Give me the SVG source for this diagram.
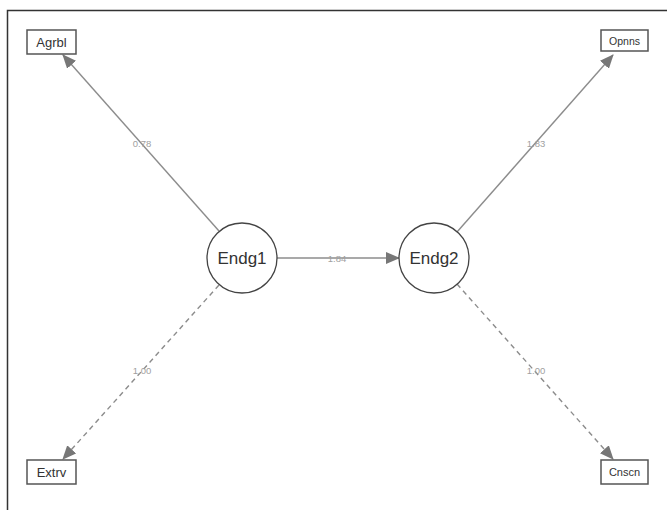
<svg xmlns="http://www.w3.org/2000/svg" width="667" height="510" viewBox="0 0 667 510">
<style>
.frame{fill:none;stroke:#333;stroke-width:1.5}
.box{fill:#fff;stroke:#555;stroke-width:1.5}
.circ{fill:#fff;stroke:#444;stroke-width:1.3}
.t{font-family:"Liberation Sans",Arial,sans-serif;fill:#333;text-anchor:middle;dominant-baseline:central}
.edge{stroke:#8c8c8c;stroke-width:1.4;fill:none}
.dash{stroke-dasharray:5,4}
.lbl{font-family:"Liberation Sans",Arial,sans-serif;font-size:9.5px;fill:#a0a0a0;text-anchor:middle;dominant-baseline:central}
</style>
<defs>
<marker id="ah" markerUnits="userSpaceOnUse" markerWidth="14" markerHeight="12" refX="13" refY="6" orient="auto" viewBox="0 0 14 12">
<path d="M0,0 L14,6 L0,12 Z" fill="#777"/>
</marker>
</defs>
<rect width="667" height="510" fill="#fff"/>
<path class="frame" d="M7.5,520 L7.5,10.5 L680,10.5"/>
<g id="connectors">
<line class="edge" x1="219" y1="231" x2="63" y2="55" marker-end="url(#ah)"/>
<line class="edge" x1="457" y1="232" x2="613" y2="55" marker-end="url(#ah)"/>
<line class="edge dash" x1="219" y1="285" x2="63" y2="459" marker-end="url(#ah)"/>
<line class="edge dash" x1="457" y1="284" x2="613" y2="459" marker-end="url(#ah)"/>
<line class="edge" x1="277" y1="258" x2="399" y2="258" marker-end="url(#ah)"/>
<text class="lbl" x="142" y="143">0.78</text>
<text class="lbl" x="536" y="143">1.83</text>
<text class="lbl" x="142" y="370">1.00</text>
<text class="lbl" x="536" y="370">1.00</text>
<text class="lbl" x="337" y="258">1.84</text>
</g>
<g id="Agrbl"><rect class="box" x="27" y="30" width="49" height="24"/><text class="t" x="51.5" y="42" font-size="13">Agrbl</text></g>
<g id="Opnns"><rect class="box" x="601" y="30" width="47" height="21"/><text class="t" x="624.5" y="40.5" font-size="10.5">Opnns</text></g>
<g id="Extrv"><rect class="box" x="27" y="460" width="49" height="24"/><text class="t" x="51.5" y="472" font-size="13">Extrv</text></g>
<g id="Cnscn"><rect class="box" x="601" y="460" width="47" height="24"/><text class="t" x="624.5" y="472" font-size="11">Cnscn</text></g>
<g id="Endg1"><circle class="circ" cx="242" cy="258" r="35"/><text class="t" x="242" y="258" font-size="17">Endg1</text></g>
<g id="Endg2"><circle class="circ" cx="434" cy="258" r="35"/><text class="t" x="434" y="258" font-size="17">Endg2</text></g>
</svg>
